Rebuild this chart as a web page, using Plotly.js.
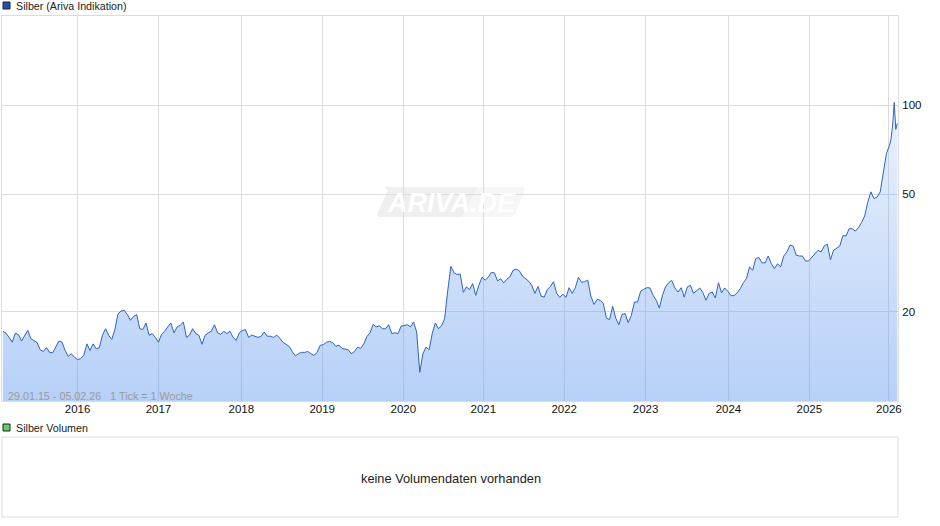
<!DOCTYPE html>
<html><head><meta charset="utf-8">
<script src="https://cdn.plot.ly/plotly-3.0.1.min.js"></script>
<style>html,body{margin:0;padding:0;background:#fff}#c{width:940px;height:526px}</style>
</head><body><div id="c"></div>
<script>
// Fortnightly readings from 2015-01-29 up to 2026-01-01, then weekly readings
const firstDate = '2015-01-29';
const values2015 = [17.2,16.95,16.4,15.8,16.95,16.75,15.95,16.55,17.33,16.25,16.03,15.75,14.9,14.7,15.15,14.6,14.55,15.2,15.95,15.8,14.83,14.15,14.45,14.05];
const values2016 = [13.8,13.9,14.26,15.6,14.83,15.6,15.0,15.15,16.67,17.55,16.67,16.15,17.45,19.7,20.15,20.25,19.6,18.73,19.3,19.6,17.55,17.45,18.35,16.67,16.9,16.4];
const values2017 = [15.8,16.8,17.2,17.8,18.35,17.0,17.8,18.0,18.5,16.4,16.7,17.55,16.9,16.67,15.55,16.67,17.0,17.2,18.1,17.0,16.8,17.2,16.9,17.2,16.4,16.03];
const values2018 = [17.0,17.33,17.4,16.4,16.7,16.55,16.4,16.55,17.1,16.55,16.55,16.4,16.7,16.3,15.8,15.55,15.3,14.7,14.2,14.45,14.6,14.6,14.7,14.45,14.26,14.6];
const values2019 = [15.42,15.5,15.8,15.9,15.75,15.3,15.45,15.05,15.0,14.9,14.45,14.7,15.2,15.05,15.6,16.5,17.0,18.15,17.8,17.95,17.55,17.55,18.1,16.9,17.0,16.9];
const values2020 = [17.9,18.05,18.1,17.8,18.5,17.1,12.5,14.45,15.2,14.9,16.9,18.35,17.55,17.95,19.0,23.66,28.5,27.1,26.75,26.85,23.3,24.3,23.8,24.95,22.76,24.6];
const values2021 = [26.2,25.6,26.2,27.2,27.1,25.45,25.9,25.05,25.8,26.3,27.66,27.9,27.55,26.4,25.9,25.4,24.6,23.1,24.4,22.6,22.45,23.8,24.4,25.3,23.1,22.4];
const values2022 = [22.95,22.4,24.15,23.1,24.15,26.2,25.2,25.3,25.6,22.6,21.2,22.05,21.9,21.35,19.05,18.85,20.9,19.05,18.1,19.6,19.75,18.4,19.48,21.6,21.6,23.5];
const values2023 = [23.85,24.15,24.1,22.76,21.9,20.6,22.76,24.3,25.1,25.55,24.1,23.35,24.15,22.45,24.3,24.6,23.1,23.66,24.1,23.25,21.9,23.1,23.35,22.3,25.1,23.2];
const values2024 = [24.1,23.5,22.7,22.7,23.2,23.95,25.1,25.9,28.4,27.66,30.3,30.55,29.3,29.3,30.9,29.1,28.0,29.1,28.4,30.9,31.9,33.6,33.4,31.1,30.9,30.9];
const values2025 = [29.7,29.75,30.55,31.5,32.3,31.9,33.4,33.9,30.0,32.3,32.8,33.4,36.2,36.1,38.2,38.2,37.5,38.5,40.1,42.2,46.9,50.9,48.3,48.9,50.9,59.5,68.6,73.2];
const lateDates = ['2026-01-08','2026-01-15','2026-01-22','2026-01-29','2026-02-05'];
const lateValues = [77.2,85.6,102.1,82.8,86.7];
const yearTickDates = ['2015-12-31','2016-12-29','2018-01-06','2019-01-05','2020-01-05','2020-12-30','2021-12-29','2022-12-30','2024-01-07','2025-01-05','2025-12-29'];
const yearTickLabels = ['2016','2017','2018','2019','2020','2021','2022','2023','2024','2025','2026'];
const priceTicks = [20,50,100];

const fortnightly = [].concat(values2015,values2016,values2017,values2018,values2019,values2020,values2021,values2022,values2023,values2024,values2025);
const t0 = Date.parse(firstDate+'T00:00:00Z');
const dates = fortnightly.map((_,i)=>new Date(t0+i*14*864e5).toISOString().slice(0,10)).concat(lateDates);
const prices = fortnightly.concat(lateValues);

const W=940,H=526,L=2,R=898,T=16,B=401,T2=437,B2=517;
const grid='#dcdcdc', font='"Liberation Sans", Arial, sans-serif';
const px=x=>x/W, py=y=>1-y/H;
function label(text,x,y,size,color,anchor){return {text,xref:'paper',yref:'paper',x:px(x),y:py(y),xanchor:anchor||'left',yanchor:'middle',showarrow:false,font:{family:font,size,color},align:'left'};}
function swatch(x0,y0,x1,y1,fill){return {type:'rect',xref:'paper',yref:'paper',x0:px(x0),x1:px(x1),y0:py(y0),y1:py(y1),fillcolor:fill,line:{color:'#222',width:1},layer:'above'};}

Plotly.newPlot('c',[{
  x:dates,y:prices,type:'scatter',mode:'lines',
  line:{color:'#2d62c4',width:1},
  fill:'tozeroy',
  fillgradient:{type:'vertical',start:10,stop:103,colorscale:[[0,'rgba(97,153,239,0.46)'],[1,'rgba(97,153,239,0.13)']]},
  hoverinfo:'skip'
}],{
  width:W,height:H,margin:{l:0,r:0,t:0,b:0},paper_bgcolor:'#fff',plot_bgcolor:'rgba(0,0,0,0)',showlegend:false,
  font:{family:font,size:12,color:'#000'},
  xaxis:{type:'date',domain:[px(L),px(R)],range:['2015-01-25','2026-02-08'],tickmode:'array',tickvals:yearTickDates,ticktext:yearTickLabels,
    tickangle:0,tickfont:{family:font,size:11.5,color:'#111'},ticklabelstandoff:-3,showgrid:true,gridcolor:grid,gridwidth:1,zeroline:false,showline:true,linecolor:grid,mirror:true,ticks:''},
  yaxis:{type:'log',domain:[py(B),py(T)],range:[1,Math.log10(200)],side:'right',tickmode:'array',tickvals:priceTicks,ticktext:priceTicks.map(String),
    tickfont:{family:font,size:11.5,color:'#111'},ticklabelstandoff:1,showgrid:true,gridcolor:grid,gridwidth:1,zeroline:false,showline:true,linecolor:grid,mirror:true,ticks:''},
  shapes:[
    swatch(3,2,10,9,'#1f4fb0'),
    swatch(3,424,10,431,'#5fcf6a'),
    {type:'rect',xref:'paper',yref:'paper',layer:'above',x0:px(L),x1:px(R),y0:py(B2),y1:py(T2),fillcolor:'rgba(0,0,0,0)',line:{color:grid,width:1}},
    {type:'path',xref:'paper',yref:'paper',layer:'below',line:{width:0},fillcolor:'#efefef',
     path:`M ${px(384)} ${py(187)} L ${px(478)} ${py(187)} L ${px(462)} ${py(217)} L ${px(380)} ${py(217)} Q ${px(376)} ${py(217)} ${px(378)} ${py(212)} L ${px(388)} ${py(190)} Z`},
    {type:'path',xref:'paper',yref:'paper',layer:'below',line:{width:0},fillcolor:'#f6f6f6',
     path:`M ${px(478)} ${py(187)} L ${px(522)} ${py(187)} Q ${px(526)} ${py(187)} ${px(524)} ${py(192)} L ${px(515)} ${py(214)} Q ${px(514)} ${py(217)} ${px(510)} ${py(217)} L ${px(462)} ${py(217)} Z`}
  ],
  annotations:[
    label('Silber (Ariva Indikation)',14,6,10.7,'#222'),
    label('Silber Volumen',14,428,10.7,'#222'),
    label('keine Volumendaten vorhanden',451,478,12.8,'#222','center'),
    label('29.01.15 - 05.02.26&nbsp;&nbsp;&nbsp;1 Tick = 1 Woche',6,395.5,10.75,'#9a9a9a'),
    {text:'<b><i>ARIVA.DE</i></b>',xref:'paper',yref:'paper',x:px(451),y:py(203),xanchor:'center',yanchor:'middle',showarrow:false,font:{family:font,size:27,color:'#ffffff'}}
  ]
},{staticPlot:true,displayModeBar:false});
</script></body></html>
